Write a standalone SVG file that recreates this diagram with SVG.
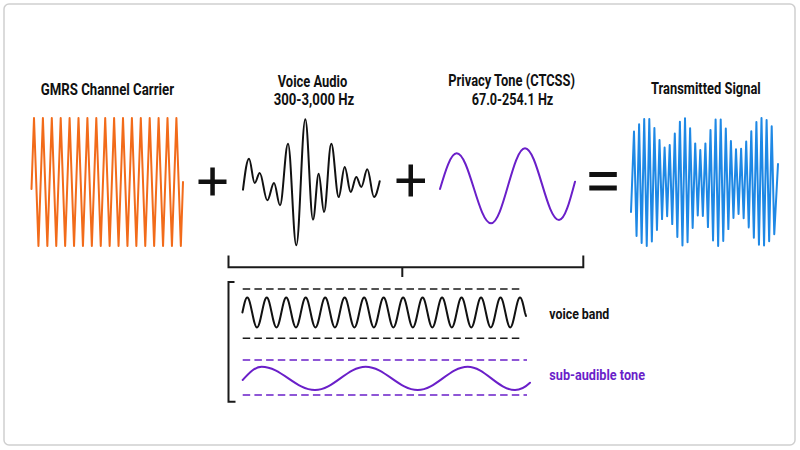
<svg xmlns="http://www.w3.org/2000/svg" width="800" height="450" viewBox="0 0 800 450">
<style>
.t{font-family:Roboto,"Liberation Sans",Arial,sans-serif;font-weight:700;font-size:16.5px;fill:#111}
.s{font-family:Roboto,"Liberation Sans",Arial,sans-serif;font-weight:700;font-size:15px}
.w{fill:none;stroke-width:2;stroke-linejoin:round;stroke-linecap:round}
.k{fill:none;stroke:#1a1a1a;stroke-width:2}
.op{fill:#111}
</style>
<rect x="4" y="4" width="791" height="441" rx="5" fill="#fff" stroke="#cfcfcf" stroke-width="1.5"/>

<g id="carrier">
<text class="t" x="40.7" y="94.5" textLength="133.3" lengthAdjust="spacingAndGlyphs">GMRS Channel Carrier</text>
<polyline class="w" stroke="#f26b1a" points="31.5,189 34,118 38.45,246 42.9,118 47.35,246 51.8,118 56.25,246 60.7,118 65.15,246 69.6,118 74.05,246 78.5,118 82.95,246 87.4,118 91.85,246 96.3,118 100.75,246 105.2,118 109.65,246 114.1,118 118.55,246 123,118 127.45,246 131.9,118 136.35,246 140.8,118 145.25,246 149.7,118 154.15,246 158.6,118 163.05,246 167.5,118 171.95,246 176.4,118 180.85,246 183,182"/>
</g>

<g id="plus1"><rect class="op" x="198.5" y="179.5" width="28" height="4.5"/><rect class="op" x="210.3" y="167.5" width="4.5" height="28"/></g>

<g id="voice">
<text class="t" x="277.7" y="86.5" textLength="69.6" lengthAdjust="spacingAndGlyphs">Voice Audio</text>
<text class="t" x="273.7" y="105" textLength="80.6" lengthAdjust="spacingAndGlyphs">300-3,000 Hz</text>
<path class="w" stroke="#111" d="M243,189.7 C245,173.8 246.8,158.7 249,158.7 C251.1,158.7 252.6,183 254.7,183 C256.5,183 257.9,173 259.7,173 C262.5,173 264.5,200.3 267.3,200.3 C269.7,200.3 271.6,183 274,183 C276.2,183 277.8,205.3 280,205.3 C282.9,205.3 285.1,143.7 288,143.7 C291,143.7 293.3,245.3 296.3,245.3 C299.6,245.3 302,119.3 305.3,119.3 C308.1,119.3 310.2,219.7 313,219.7 C315.1,219.7 316.6,173.7 318.7,173.7 C320.6,173.7 322.1,212 324,212 C326.7,212 328.6,143.7 331.3,143.7 C334,143.7 336,197 338.7,197 C340.9,197 342.5,167 344.7,167 C346.9,167 348.5,192 350.7,192 C352.7,192 354.3,177 356.3,177 C358.1,177 359.5,187 361.3,187 C363.5,187 365.1,169.3 367.3,169.3 C369.7,169.3 371.6,197 374,197 C376.1,197 377.8,189.3 379.7,181.3"/>
</g>

<g id="plus2"><rect class="op" x="396.5" y="178.5" width="28.5" height="4.5"/><rect class="op" x="408.5" y="164.5" width="4.5" height="32"/></g>

<g id="tone">
<text class="t" x="448.3" y="86" textLength="126.7" lengthAdjust="spacingAndGlyphs">Privacy Tone (CTCSS)</text>
<text class="t" x="471.7" y="104.5" textLength="81.6" lengthAdjust="spacingAndGlyphs">67.0-254.1 Hz</text>
<path class="w" stroke="#6a1fc9" d="M440,189 C445.4,170.7 450.7,153.3 456.7,153.3 C469.2,153.3 478.5,223.3 491,223.3 C503.4,223.3 512.6,148.3 525,148.3 C537.4,148.3 546.6,220 559,220 C564.8,220 569.8,201.3 575,181.7"/>
</g>

<g id="equals"><rect class="op" x="589.3" y="172" width="27.5" height="5"/><rect class="op" x="589.3" y="185.5" width="27.5" height="5"/></g>

<g id="transmitted">
<text class="t" x="651" y="94" textLength="109.7" lengthAdjust="spacingAndGlyphs">Transmitted Signal</text>
<polyline class="w" stroke="#1e88e5" points="631,212 634,131.6 636.55,236.1 639.1,124.2 641.65,243 644.2,118.9 646.75,246 649.3,119.1 651.85,241.4 654.4,127.9 656.95,229.9 659.5,140.1 662.05,219.1 664.6,147.6 667.15,216.3 669.7,145 672.25,224.1 674.8,133.5 677.35,237 679.9,121.7 682.45,245.5 685,118.3 687.55,242.3 690.1,128.2 692.65,228 695.2,143.4 697.75,215.5 700.3,150 702.85,216 705.4,143.4 707.95,227.1 710.5,129.9 713.05,240.4 715.6,119.4 718.15,246 720.7,119.4 723.25,240.9 725.8,128.6 728.35,229.1 730.9,141 733.45,217.9 736,149.2 738.55,214 741.1,148.7 743.65,218.2 746.2,141.6 748.75,227.4 751.3,131.3 753.85,237.7 756.4,122.1 758.95,244.7 761.5,118 764.05,245.6 766.6,120.1 769.15,241.2 771.7,126.2 774.25,234.2 778,164"/>
</g>

<g id="connectors">
<path class="k" d="M228.5,255.5 V267.3 H583.3 V255.5 M402.3,267.3 V277"/>
<path class="k" d="M234.5,282 H228.5 V401.7 H235.5"/>
</g>

<g id="voiceband">
<line x1="242.7" y1="289" x2="522" y2="289" stroke="#1a1a1a" stroke-width="1.6" stroke-dasharray="7.5 4.2"/>
<line x1="242.7" y1="338.3" x2="522" y2="338.3" stroke="#1a1a1a" stroke-width="1.6" stroke-dasharray="7.5 4.2"/>
<path class="w" stroke="#111" d="M242.4,312.5 C244,304.8 245.5,297.5 247.27,297.5 C250.82,297.5 253.46,327.5 257.01,327.5 S263.2,297.5 266.75,297.5 S272.94,327.5 276.49,327.5 S282.68,297.5 286.23,297.5 S292.42,327.5 295.97,327.5 S302.16,297.5 305.71,297.5 S311.9,327.5 315.45,327.5 S321.64,297.5 325.19,297.5 S331.38,327.5 334.93,327.5 S341.12,297.5 344.67,297.5 S350.86,327.5 354.41,327.5 S360.6,297.5 364.15,297.5 S370.34,327.5 373.89,327.5 S380.08,297.5 383.63,297.5 S389.82,327.5 393.37,327.5 S399.56,297.5 403.11,297.5 S409.3,327.5 412.85,327.5 S419.04,297.5 422.59,297.5 S428.78,327.5 432.33,327.5 S438.52,297.5 442.07,297.5 S448.26,327.5 451.81,327.5 S458,297.5 461.55,297.5 S467.74,327.5 471.29,327.5 S477.48,297.5 481.03,297.5 S487.22,327.5 490.77,327.5 S496.96,297.5 500.51,297.5 S506.7,327.5 510.25,327.5 S516.44,297.5 519.99,297.5 C521.8,297.5 523.3,304.8 524.9,312.5 L526,316"/>
<text class="s" x="549.3" y="319" fill="#111" textLength="60" lengthAdjust="spacingAndGlyphs">voice band</text>
</g>

<g id="subaudible">
<line x1="242.7" y1="360" x2="527" y2="360" stroke="#6a1fc9" stroke-width="1.6" stroke-dasharray="7.5 4.2"/>
<line x1="242.7" y1="395" x2="527" y2="395" stroke="#6a1fc9" stroke-width="1.6" stroke-dasharray="7.5 4.2"/>
<path class="w" stroke="#6a1fc9" d="M242.7,380 C248.9,373.2 254.8,366.7 261.7,366.7 C281.1,366.7 295.6,390 315,390 C333.5,390 347.2,366.7 365.7,366.7 C384.6,366.7 398.8,390 417.7,390 C435.9,390 449.5,366.7 467.7,366.7 C484.9,366.7 497.8,390 515,390 C521,390 526,386.5 530,382.7"/>
<text class="s" x="549.3" y="379.5" fill="#6a1fc9" textLength="95.7" lengthAdjust="spacingAndGlyphs">sub-audible tone</text>
</g>
</svg>
